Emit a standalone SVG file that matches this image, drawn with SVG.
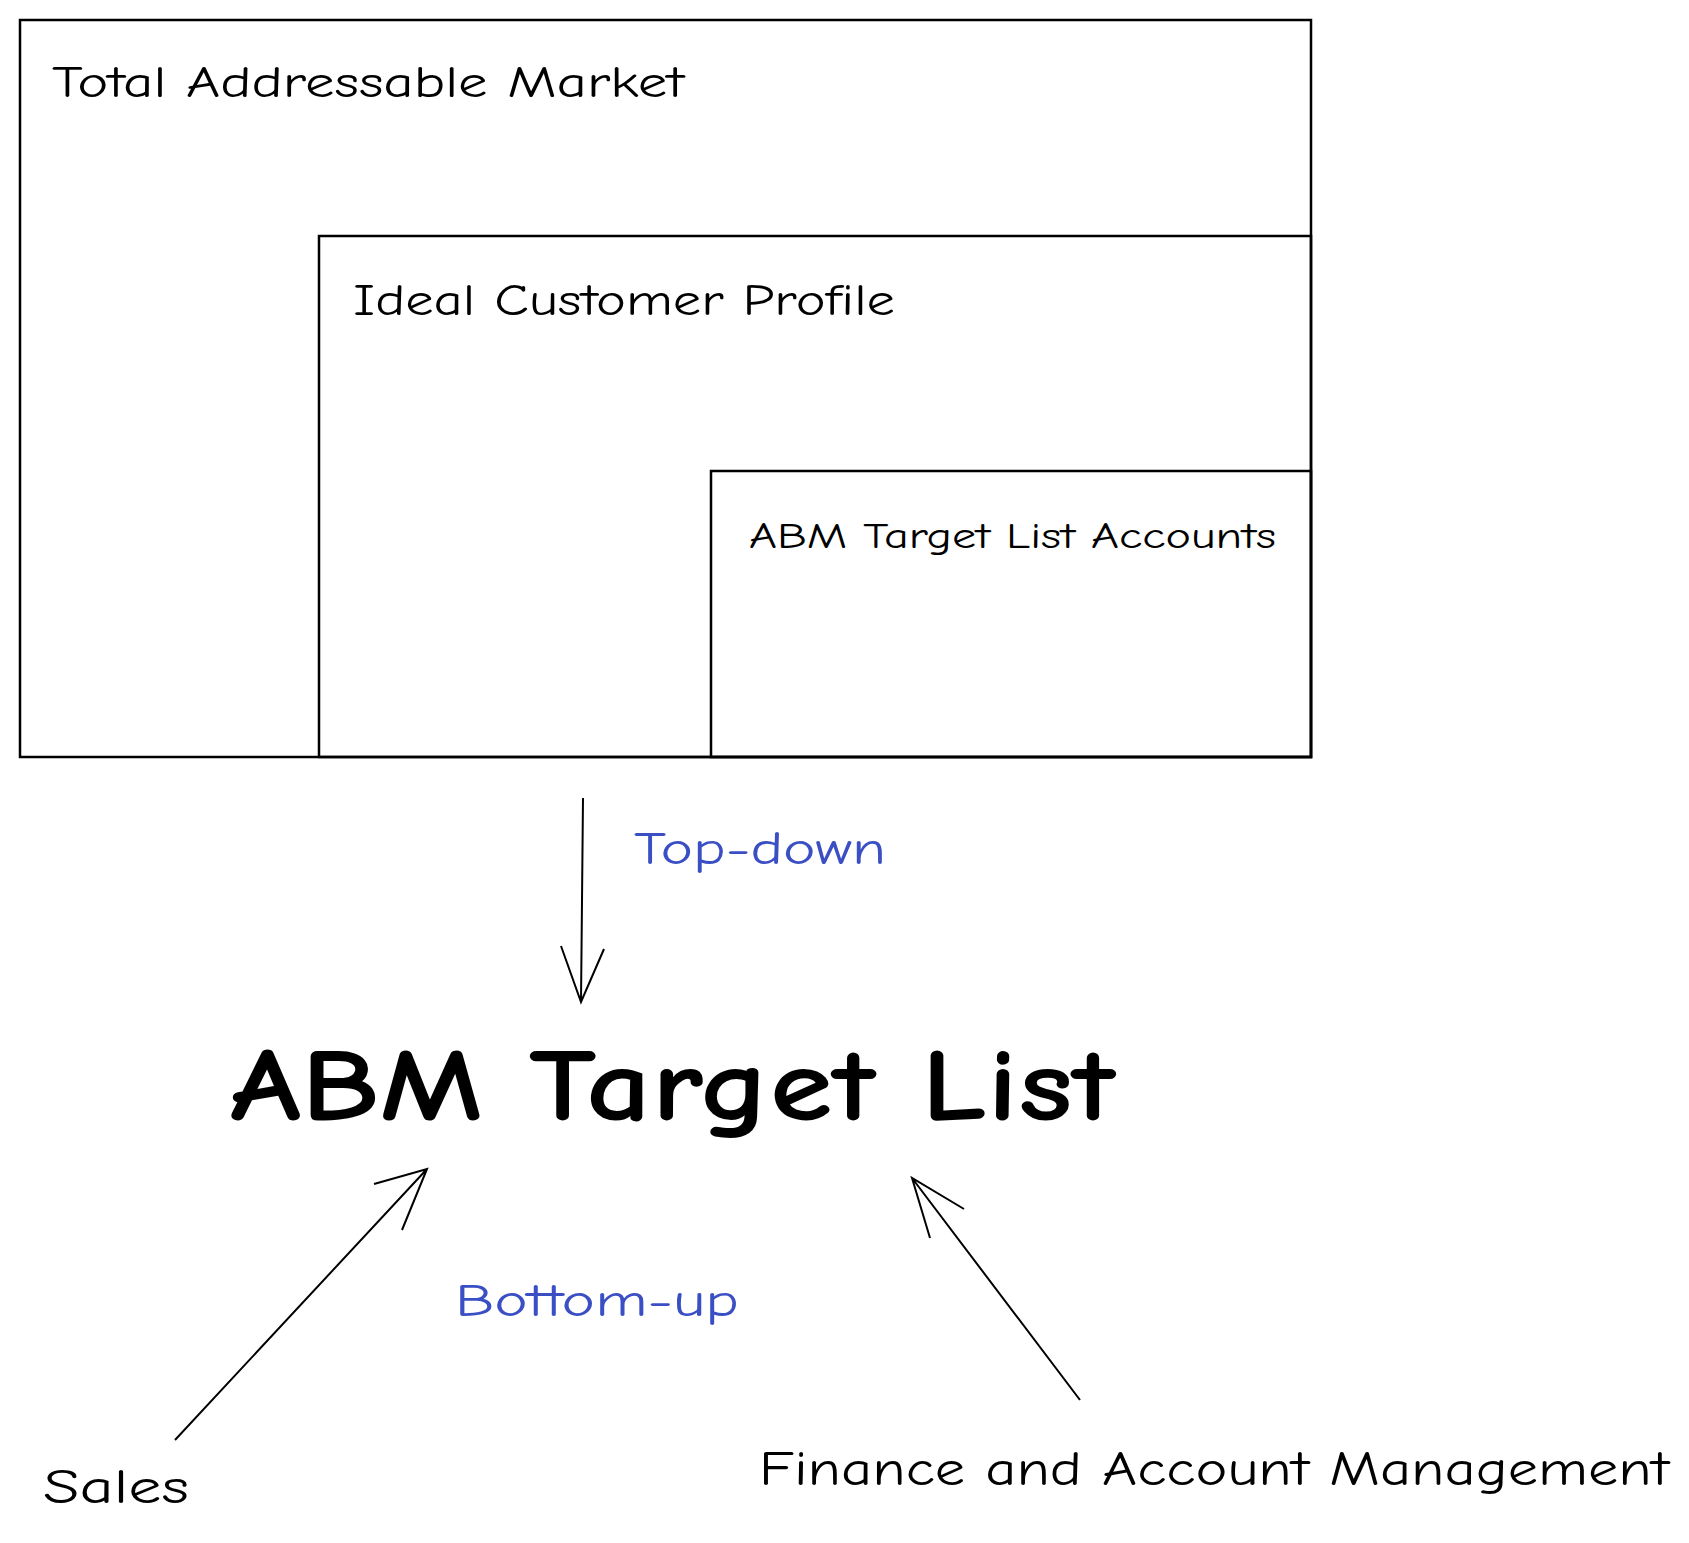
<svg xmlns="http://www.w3.org/2000/svg" width="1689" height="1543" viewBox="0 0 1689 1543">
<defs>
<style>
.box{fill:none;stroke:#000;stroke-width:2.5}
.c{fill:none;stroke:#000;stroke-width:2}
text{font-family:"Comic Neue","Noto Sans","Liberation Sans",sans-serif;fill:#000}
.b{fill:#3b4fc4}
</style>
</defs>
<rect width="1689" height="1543" fill="#fff"/>
<g id="tam"><rect class="box" x="20" y="20" width="1291" height="737"/>
<text x="52" y="97" font-size="44" textLength="632" lengthAdjust="spacingAndGlyphs">Total Addressable Market</text></g>
<g id="icp"><rect class="box" x="319" y="236" width="992" height="521"/>
<text x="353" y="315" font-size="44" textLength="542" lengthAdjust="spacingAndGlyphs">Ideal Customer Profile</text></g>
<g id="abm"><rect class="box" x="711" y="471" width="600" height="286"/>
<text x="749" y="548" font-size="37" textLength="527" lengthAdjust="spacingAndGlyphs">ABM Target List Accounts</text></g>
<g id="list"><text x="230" y="1120" font-size="104" font-weight="bold" textLength="885" lengthAdjust="spacingAndGlyphs">ABM Target List</text></g>
<g id="sales"><text x="43" y="1503" font-size="48" textLength="146" lengthAdjust="spacingAndGlyphs">Sales</text></g>
<g id="fin"><text x="759" y="1485" font-size="48" textLength="910" lengthAdjust="spacingAndGlyphs">Finance and Account Management</text></g>
<g id="connectors">
<path class="c" d="M583 798 L581 1002 M561 946 L581 1002 L604 949"/>
<path class="c" d="M175 1440 L427 1169 M374 1184 L427 1169 L402 1230"/>
<path class="c" d="M1080 1400 L912 1178 M964 1209 L912 1178 L930 1238"/>
<text class="b" x="634" y="864" font-size="46" textLength="252" lengthAdjust="spacingAndGlyphs">Top-down</text>
<text class="b" x="455" y="1316" font-size="46" textLength="284" lengthAdjust="spacingAndGlyphs">Bottom-up</text>
</g>
</svg>
